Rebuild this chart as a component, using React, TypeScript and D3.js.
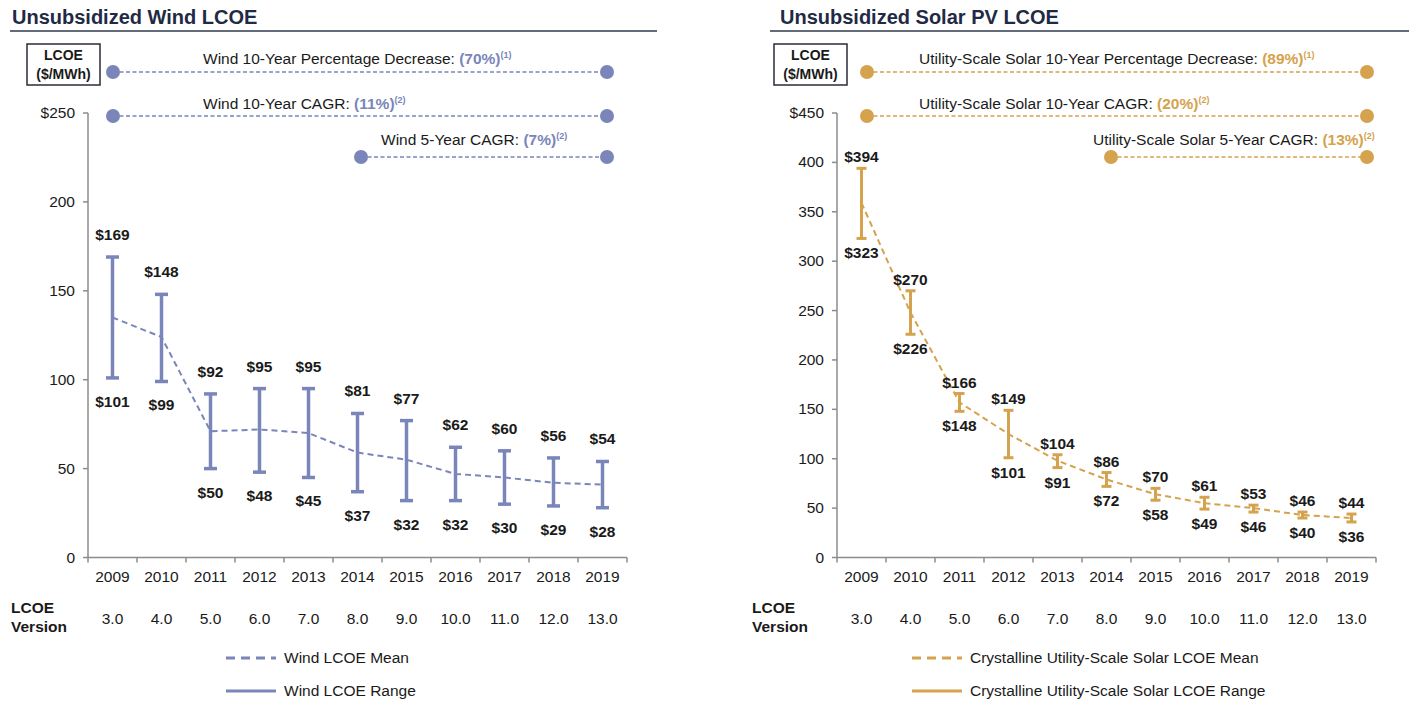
import React from 'react';
import * as d3 from 'd3';

const years = ['2009', '2010', '2011', '2012', '2013', '2014', '2015', '2016', '2017', '2018', '2019'];
const versions = ['3.0', '4.0', '5.0', '6.0', '7.0', '8.0', '9.0', '10.0', '11.0', '12.0', '13.0'];

const windHigh = [169, 148, 92, 95, 95, 81, 77, 62, 60, 56, 54];
const windLow = [101, 99, 50, 48, 45, 37, 32, 32, 30, 29, 28];
const windMean = [135, 124, 71, 72, 70, 59, 55, 47, 45, 42, 41];
const windTicks = [0, 50, 100, 150, 200, 250];

const solarHigh = [394, 270, 166, 149, 104, 86, 70, 61, 53, 46, 44];
const solarLow = [323, 226, 148, 101, 91, 72, 58, 49, 46, 40, 36];
const solarMean = [359, 248, 157, 125, 98, 79, 64, 55, 50, 43, 40];
const solarTicks = [0, 50, 100, 150, 200, 250, 300, 350, 400, 450];

const FONT = "'Liberation Sans', Arial, sans-serif";
const TEXT = '#1a1a1a';

interface Note { label: string; pct: string; sup: string; tx: number; ty: number; ly: number; xa: number; xb: number }

interface PanelProps {
  title: string;
  titleX: number;
  ruleX: [number, number];
  boxX: number;
  x0: number;
  x1: number;
  yMax: number;
  ticks: number[];
  high: number[];
  low: number[];
  mean: number[];
  color: string;
  capW: number;
  barW: number;
  hiOff: number;
  loOff: number;
  notes: Note[];
  legendX: number;
  meanLabel: string;
  rangeLabel: string;
}

const Panel: React.FC<PanelProps> = (p) => {
  const yTop = 113, yBottom = 557.5;
  const x = d3.scaleBand().domain(years).range([p.x0, p.x1]).padding(0);
  const y = d3.scaleLinear().domain([0, p.yMax]).range([yBottom, yTop]);
  const cx = (d: string) => (x(d) || 0) + x.bandwidth() / 2;

  const meanLine = d3.line<number>()
    .x((_, i) => cx(years[i]))
    .y(d => y(d));

  return (
    <g fontFamily={FONT}>
      {/* title + rule */}
      <text x={p.titleX} y={24} fontSize={20} fontWeight="bold" fill="#1f2a45">{p.title}</text>
      <line x1={p.ruleX[0]} x2={p.ruleX[1]} y1={31} y2={31} stroke="#2e3850" strokeWidth={1.6} />

      {/* unit box */}
      <rect x={p.boxX} y={44} width={73} height={41} fill="white" stroke="#2b2b3a" strokeWidth={1.5} />
      <text x={p.boxX + 36.5} y={60} textAnchor="middle" fontSize={14} fontWeight="bold" fill={TEXT}>LCOE</text>
      <text x={p.boxX + 36.5} y={79} textAnchor="middle" fontSize={14} fontWeight="bold" fill={TEXT}>($/MWh)</text>

      {/* annotations */}
      {p.notes.map((n, i) => (
        <g key={i}>
          <line x1={n.xa} x2={n.xb} y1={n.ly} y2={n.ly} stroke={p.color} strokeWidth={1.6} strokeDasharray="4,2.5" />
          <circle cx={n.xa} cy={n.ly} r={7} fill={p.color} />
          <circle cx={n.xb} cy={n.ly} r={7} fill={p.color} />
          <text x={n.tx} y={n.ty} fontSize={15.5} fill={TEXT}>
            {n.label}
            <tspan fill={p.color} fontWeight="bold">{' ' + n.pct}</tspan>
            <tspan fill={p.color} fontWeight="bold" fontSize={9} dy={-6}>{n.sup}</tspan>
          </text>
        </g>
      ))}

      {/* y axis */}
      <line x1={p.x0} x2={p.x0} y1={yTop} y2={yBottom} stroke="#8c8c8c" strokeWidth={1.5} />
      {p.ticks.map((t, i) => (
        <g key={t}>
          <line x1={p.x0 - 5} x2={p.x0} y1={y(t)} y2={y(t)} stroke="#8c8c8c" strokeWidth={1.5} />
          <text x={p.x0 - 13} y={y(t) + 5} textAnchor="end" fontSize={15.5} fill={TEXT}>
            {i === p.ticks.length - 1 ? `$${t}` : t}
          </text>
        </g>
      ))}

      {/* x axis */}
      <line x1={p.x0} x2={p.x1} y1={yBottom} y2={yBottom} stroke="#8c8c8c" strokeWidth={1.5} />
      {[...years.map(d => x(d) || 0), p.x1].map((bx, i) => (
        <line key={i} x1={bx} x2={bx} y1={yBottom} y2={yBottom + 5} stroke="#8c8c8c" strokeWidth={1.5} />
      ))}
      {years.map((d, i) => (
        <g key={d}>
          <text x={cx(d)} y={582} textAnchor="middle" fontSize={15.5} fill={TEXT}>{d}</text>
          <text x={cx(d)} y={624} textAnchor="middle" fontSize={15.5} fill={TEXT}>{versions[i]}</text>
        </g>
      ))}

      {/* range bars */}
      {years.map((d, i) => (
        <g key={d} stroke={p.color} strokeWidth={p.barW}>
          <line x1={cx(d)} x2={cx(d)} y1={y(p.high[i])} y2={y(p.low[i])} />
          <line x1={cx(d) - p.capW / 2} x2={cx(d) + p.capW / 2} y1={y(p.high[i])} y2={y(p.high[i])} />
          <line x1={cx(d) - p.capW / 2} x2={cx(d) + p.capW / 2} y1={y(p.low[i])} y2={y(p.low[i])} />
        </g>
      ))}

      {/* mean */}
      <path d={meanLine(p.mean) || ''} fill="none" stroke={p.color} strokeWidth={2} strokeDasharray="6,4" />

      {/* value labels */}
      {years.map((d, i) => (
        <g key={d} fontSize={15.5} fontWeight="bold" fill={TEXT} textAnchor="middle">
          <text x={cx(d)} y={y(p.high[i]) - p.hiOff}>{`$${p.high[i]}`}</text>
          <text x={cx(d)} y={y(p.low[i]) + p.loOff}>{`$${p.low[i]}`}</text>
        </g>
      ))}

      {/* legend */}
      <line x1={p.legendX} x2={p.legendX + 50} y1={658} y2={658} stroke={p.color} strokeWidth={3} strokeDasharray="9,6" />
      <text x={p.legendX + 58} y={663} fontSize={15.5} fill={TEXT}>{p.meanLabel}</text>
      <line x1={p.legendX} x2={p.legendX + 50} y1={691} y2={691} stroke={p.color} strokeWidth={3} />
      <text x={p.legendX + 58} y={696} fontSize={15.5} fill={TEXT}>{p.rangeLabel}</text>
    </g>
  );
};

const WIND = '#7a86ba';
const SOLAR = '#d5a24d';

export default function App() {
  return (
    <svg width={1411} height={704} style={{ position: 'absolute', left: 0, top: 0, background: 'white' }}>
      <rect width={1411} height={704} fill="white" />
      <Panel
        title="Unsubsidized Wind LCOE" titleX={12} ruleX={[10, 657]} boxX={27}
        x0={88} x1={627} yMax={250} ticks={windTicks}
        high={windHigh} low={windLow} mean={windMean} color={WIND}
        capW={13} barW={3.5} hiOff={17} loOff={29}
        notes={[
          { label: 'Wind 10-Year Percentage Decrease:', pct: '(70%)', sup: '(1)', tx: 203, ty: 64, ly: 72, xa: 113, xb: 607 },
          { label: 'Wind 10-Year CAGR:', pct: '(11%)', sup: '(2)', tx: 203, ty: 109, ly: 116, xa: 113, xb: 607 },
          { label: 'Wind 5-Year CAGR:', pct: '(7%)', sup: '(2)', tx: 381, ty: 145, ly: 157, xa: 361, xb: 607 },
        ]}
        legendX={226} meanLabel="Wind LCOE Mean" rangeLabel="Wind LCOE Range"
      />
      <Panel
        title="Unsubsidized Solar PV LCOE" titleX={780} ruleX={[770, 1409]} boxX={774}
        x0={837} x1={1376} yMax={450} ticks={solarTicks}
        high={solarHigh} low={solarLow} mean={solarMean} color={SOLAR}
        capW={10} barW={3} hiOff={6} loOff={20}
        notes={[
          { label: 'Utility-Scale Solar 10-Year Percentage Decrease:', pct: '(89%)', sup: '(1)', tx: 919, ty: 64, ly: 72, xa: 867, xb: 1367 },
          { label: 'Utility-Scale Solar 10-Year CAGR:', pct: '(20%)', sup: '(2)', tx: 919, ty: 109, ly: 116, xa: 867, xb: 1367 },
          { label: 'Utility-Scale Solar 5-Year CAGR:', pct: '(13%)', sup: '(2)', tx: 1093, ty: 145, ly: 157, xa: 1111, xb: 1367 },
        ]}
        legendX={912} meanLabel="Crystalline Utility-Scale Solar LCOE Mean" rangeLabel="Crystalline Utility-Scale Solar LCOE Range"
      />
      <g fontFamily={FONT} fontSize={15.5} fontWeight="bold" fill={TEXT}>
        <text x={11} y={613}>LCOE</text>
        <text x={11} y={632}>Version</text>
        <text x={752} y={613}>LCOE</text>
        <text x={752} y={632}>Version</text>
      </g>
    </svg>
  );
}
